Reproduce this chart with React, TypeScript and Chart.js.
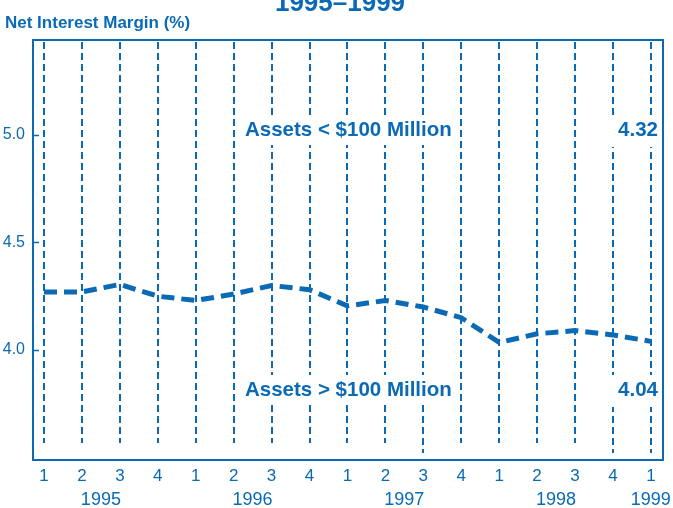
import React, { useEffect, useRef } from "react";
import { Chart, registerables } from "chart.js";

Chart.register(...registerables);

const QUARTER_LABELS = ["1", "2", "3", "4", "1", "2", "3", "4", "1", "2", "3", "4", "1", "2", "3", "4", "1"];
const LARGE_BANK_NIM = [4.27, 4.27, 4.305, 4.25, 4.23, 4.26, 4.30, 4.28, 4.205, 4.23, 4.20, 4.15, 4.035, 4.075, 4.09, 4.07, 4.04];
const YEAR_LABELS = ["1995", "1996", "1997", "1998", "1999"];
const YEAR_POSITIONS = [1.5, 5.5, 9.5, 13.5, 16];
const Y_TICKS = [4.0, 4.5, 5.0];
const SERIES_LABELS = ["Assets < $100 Million", "Assets > $100 Million"];
const END_VALUES = ["4.32", "4.04"];
const TITLE = "1995\u20131999";
const Y_TITLE = "Net Interest Margin (%)";
const LONG_LINES = [10, 15, 16];

const BLUE = "#0a6ab5";
const FONT = "'Liberation Sans', Arial, Helvetica, sans-serif";

const decorPlugin = {
  id: "decor",
  afterDatasetsDraw(chart: any) {
    const ctx = chart.ctx as CanvasRenderingContext2D;
    const { left, right, top, bottom } = chart.chartArea;
    const xs = chart.scales.x;
    const ys = chart.scales.y;
    ctx.save();
    // vertical dashed quarter lines
    ctx.strokeStyle = BLUE;
    ctx.lineWidth = 2;
    ctx.setLineDash([7, 4]);
    QUARTER_LABELS.forEach((_, i) => {
      const px = Math.round(xs.getPixelForValue(i));
      const end = LONG_LINES.includes(i) ? bottom - 7 : bottom - 17;
      ctx.beginPath();
      ctx.moveTo(px, top + 2);
      ctx.lineTo(px, end);
      ctx.stroke();
    });
    ctx.setLineDash([]);
    // white boxes for labels
    const upperY = top + 89;
    const lowerY = top + 349;
    ctx.fillStyle = "#ffffff";
    ctx.fillRect(left + 207, upperY - 14, 216, 30);
    ctx.fillRect(left + 207, lowerY - 14, 216, 30);
    ctx.fillRect(right - 52, upperY - 14, 50, 32);
    ctx.fillRect(right - 52, lowerY - 14, 50, 32);
    // label texts
    ctx.fillStyle = BLUE;
    ctx.font = `bold 20.5px ${FONT}`;
    ctx.textBaseline = "middle";
    ctx.textAlign = "left";
    ctx.fillText(SERIES_LABELS[0], left + 212, upperY + 1);
    ctx.fillText(SERIES_LABELS[1], left + 212, lowerY + 1);
    ctx.textAlign = "right";
    ctx.fillText(END_VALUES[0], right - 5, upperY + 1);
    ctx.fillText(END_VALUES[1], right - 5, lowerY + 1);
    // frame
    ctx.strokeStyle = BLUE;
    ctx.lineWidth = 2;
    ctx.strokeRect(left, top, right - left, bottom - top);
    // y ticks (inside)
    Y_TICKS.forEach((v) => {
      const py = Math.round(ys.getPixelForValue(v)) + 0.5;
      ctx.lineWidth = 1.5;
      ctx.beginPath();
      ctx.moveTo(left, py);
      ctx.lineTo(left + 6, py);
      ctx.stroke();
    });
    // years
    ctx.font = `18px ${FONT}`;
    ctx.textAlign = "center";
    ctx.textBaseline = "alphabetic";
    YEAR_LABELS.forEach((y, i) => {
      ctx.fillText(y, xs.getPixelForValue(YEAR_POSITIONS[i]), 505);
    });
    // titles
    ctx.font = `bold 26px ${FONT}`;
    ctx.fillText(TITLE, 340, 11);
    ctx.font = `bold 17px ${FONT}`;
    ctx.textAlign = "left";
    ctx.fillText(Y_TITLE, 5, 28);
    ctx.restore();
  },
};

export default function App() {
  const ref = useRef<HTMLCanvasElement>(null);
  useEffect(() => {
    if (!ref.current) return;
    const chart = new Chart(ref.current, {
      type: "line",
      data: {
        datasets: [
          {
            label: SERIES_LABELS[1],
            data: LARGE_BANK_NIM.map((v, i) => ({ x: i, y: v })),
            borderColor: BLUE,
            borderWidth: 5,
            borderDash: [13, 7],
            pointRadius: 0,
            tension: 0,
            fill: false,
          },
        ],
      },
      plugins: [decorPlugin],
      options: {
        animation: false,
        responsive: false,
        devicePixelRatio: 1,
        layout: { padding: { top: 40, right: 10, left: 0, bottom: 0 } },
        plugins: { legend: { display: false }, tooltip: { enabled: false }, title: { display: false } },
        scales: {
          x: {
            type: "linear",
            min: -0.29,
            max: 16.32,
            grid: { display: false, drawTicks: false },
            border: { display: false },
            afterBuildTicks: (s: any) => {
              s.ticks = QUARTER_LABELS.map((_, i) => ({ value: i }));
            },
            afterFit: (s: any) => {
              s.height = 48;
            },
            ticks: {
              autoSkip: false,
              maxRotation: 0,
              padding: 6,
              color: BLUE,
              font: { family: FONT, size: 17 },
              callback: (v: any) => QUARTER_LABELS[v] ?? "",
            },
          },
          y: {
            min: 3.488,
            max: 5.442,
            grid: { display: false, drawTicks: false },
            border: { display: false },
            afterBuildTicks: (s: any) => {
              s.ticks = Y_TICKS.map((v) => ({ value: v }));
            },
            afterFit: (s: any) => {
              s.width = 33;
            },
            ticks: {
              padding: 8,
              color: BLUE,
              font: { family: FONT, size: 16 },
              callback: (v: any) => Number(v).toFixed(1),
            },
          },
        },
      },
    });
    return () => chart.destroy();
  }, []);
  return (
    <div style={{ position: "absolute", left: 0, top: 0, width: 673, height: 508, background: "#fff" }}>
      <canvas ref={ref} width={673} height={508} style={{ width: 673, height: 508, display: "block" }} />
    </div>
  );
}
